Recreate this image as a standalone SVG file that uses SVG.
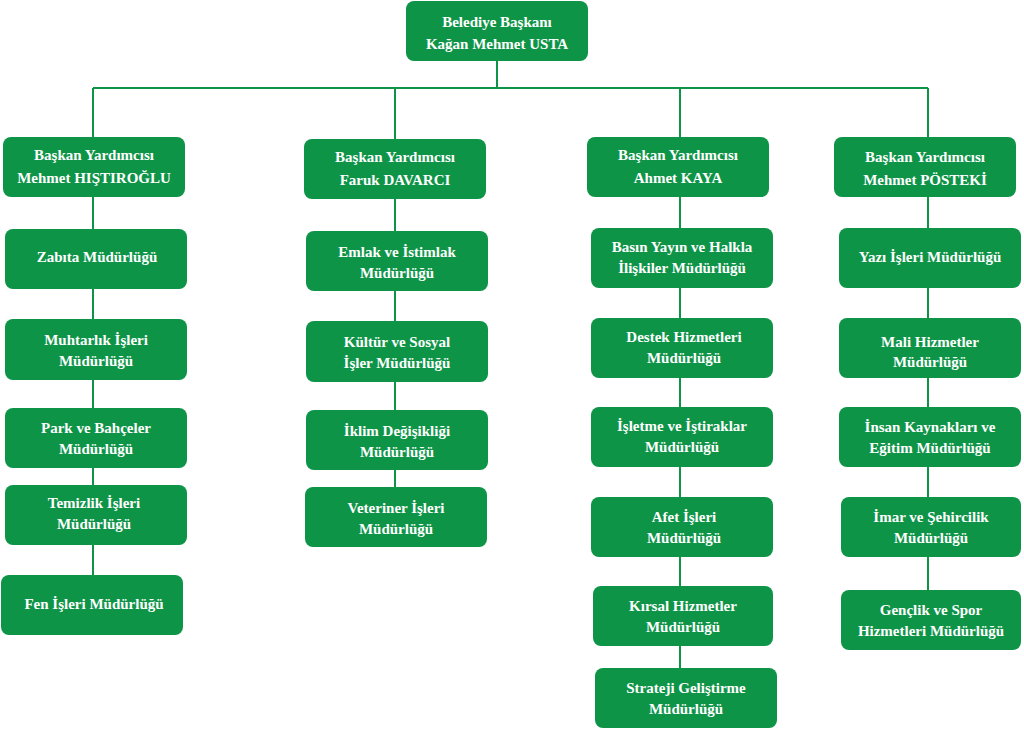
<svg xmlns="http://www.w3.org/2000/svg" width="1024" height="730" viewBox="0 0 1024 730">
<style>
.b{fill:#0e9447}
.t{font-family:"Liberation Serif",serif;font-weight:bold;font-size:15px;fill:#fff;text-anchor:middle}
.c{stroke:#0e9447;stroke-width:2;fill:none}
</style>
<rect width="1024" height="730" fill="#fff"/>
<g id="connectors">
<path class="c" d="M497 61V88M93 88H928M93 88V635M395 88V547M680 88V668M928 88V590"/>
</g>
<g id="mayor"><rect class="b" x="406" y="1" width="182" height="60" rx="8"/><text class="t" x="497" y="27">Belediye Başkanı</text><text class="t" x="497" y="49">Kağan Mehmet USTA</text></g>
<g id="vp1"><rect class="b" x="3" y="137" width="182" height="60" rx="8"/><text class="t" x="94" y="160">Başkan Yardımcısı</text><text class="t" x="94" y="183">Mehmet HIŞTIROĞLU</text></g>
<g id="vp2"><rect class="b" x="304" y="139" width="182" height="60" rx="8"/><text class="t" x="395" y="162">Başkan Yardımcısı</text><text class="t" x="395" y="185">Faruk DAVARCI</text></g>
<g id="vp3"><rect class="b" x="587" y="137" width="182" height="60" rx="8"/><text class="t" x="678" y="160">Başkan Yardımcısı</text><text class="t" x="678" y="183">Ahmet KAYA</text></g>
<g id="vp4"><rect class="b" x="834" y="137" width="182" height="60" rx="8"/><text class="t" x="925" y="162">Başkan Yardımcısı</text><text class="t" x="925" y="185">Mehmet PÖSTEKİ</text></g>

<g id="zabita"><rect class="b" x="5" y="229" width="182" height="60" rx="8"/><text class="t" x="97" y="262">Zabıta Müdürlüğü</text></g>
<g id="muhtarlik"><rect class="b" x="5" y="319" width="182" height="61" rx="8"/><text class="t" x="96" y="345">Muhtarlık İşleri</text><text class="t" x="96" y="366">Müdürlüğü</text></g>
<g id="park"><rect class="b" x="5" y="408" width="182" height="60" rx="8"/><text class="t" x="96" y="433">Park ve Bahçeler</text><text class="t" x="96" y="454">Müdürlüğü</text></g>
<g id="temizlik"><rect class="b" x="5" y="485" width="182" height="60" rx="8"/><text class="t" x="94" y="508">Temizlik İşleri</text><text class="t" x="94" y="529">Müdürlüğü</text></g>
<g id="fen"><rect class="b" x="1" y="575" width="182" height="60" rx="8"/><text class="t" x="94" y="609">Fen İşleri Müdürlüğü</text></g>

<g id="emlak"><rect class="b" x="306" y="231" width="182" height="60" rx="8"/><text class="t" x="397" y="257">Emlak ve İstimlak</text><text class="t" x="397" y="278">Müdürlüğü</text></g>
<g id="kultur"><rect class="b" x="306" y="321" width="182" height="61" rx="8"/><text class="t" x="397" y="347">Kültür ve Sosyal</text><text class="t" x="397" y="368">İşler Müdürlüğü</text></g>
<g id="iklim"><rect class="b" x="306" y="410" width="182" height="60" rx="8"/><text class="t" x="397" y="436">İklim Değişikliği</text><text class="t" x="397" y="457">Müdürlüğü</text></g>
<g id="veteriner"><rect class="b" x="305" y="487" width="182" height="60" rx="8"/><text class="t" x="396" y="513">Veteriner İşleri</text><text class="t" x="396" y="534">Müdürlüğü</text></g>

<g id="basin"><rect class="b" x="591" y="228" width="182" height="60" rx="8"/><text class="t" x="682" y="252">Basın Yayın ve Halkla</text><text class="t" x="682" y="273">İlişkiler Müdürlüğü</text></g>
<g id="destek"><rect class="b" x="591" y="318" width="182" height="60" rx="8"/><text class="t" x="684" y="342">Destek Hizmetleri</text><text class="t" x="684" y="363">Müdürlüğü</text></g>
<g id="isletme"><rect class="b" x="591" y="407" width="182" height="60" rx="8"/><text class="t" x="682" y="431">İşletme ve İştiraklar</text><text class="t" x="682" y="452">Müdürlüğü</text></g>
<g id="afet"><rect class="b" x="591" y="497" width="182" height="60" rx="8"/><text class="t" x="684" y="522">Afet İşleri</text><text class="t" x="684" y="543">Müdürlüğü</text></g>
<g id="kirsal"><rect class="b" x="593" y="586" width="180" height="60" rx="8"/><text class="t" x="683" y="611">Kırsal Hizmetler</text><text class="t" x="683" y="632">Müdürlüğü</text></g>
<g id="strateji"><rect class="b" x="595" y="668" width="182" height="60" rx="8"/><text class="t" x="686" y="693">Strateji Geliştirme</text><text class="t" x="686" y="714">Müdürlüğü</text></g>

<g id="yazi"><rect class="b" x="839" y="228" width="182" height="60" rx="8"/><text class="t" x="930" y="262">Yazı İşleri Müdürlüğü</text></g>
<g id="mali"><rect class="b" x="839" y="318" width="182" height="60" rx="8"/><text class="t" x="930" y="347">Mali Hizmetler</text><text class="t" x="930" y="367">Müdürlüğü</text></g>
<g id="insan"><rect class="b" x="839" y="407" width="182" height="60" rx="8"/><text class="t" x="930" y="432">İnsan Kaynakları ve</text><text class="t" x="930" y="453">Eğitim Müdürlüğü</text></g>
<g id="imar"><rect class="b" x="841" y="497" width="180" height="60" rx="8"/><text class="t" x="931" y="522">İmar ve Şehircilik</text><text class="t" x="931" y="543">Müdürlüğü</text></g>
<g id="genclik"><rect class="b" x="841" y="590" width="180" height="60" rx="8"/><text class="t" x="931" y="615">Gençlik ve Spor</text><text class="t" x="931" y="636">Hizmetleri Müdürlüğü</text></g>
</svg>
